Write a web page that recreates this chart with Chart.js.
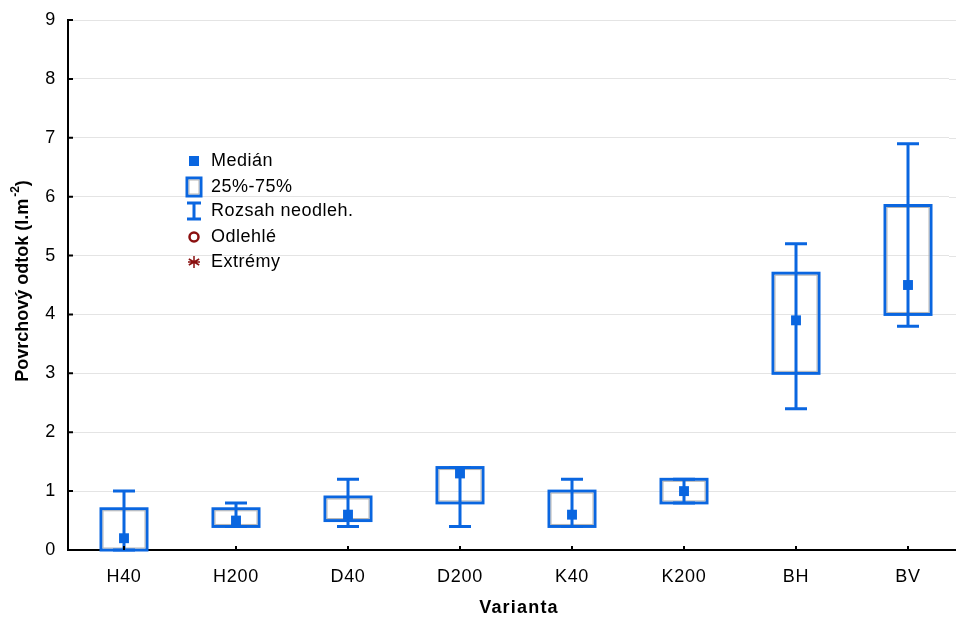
<!DOCTYPE html>
<html>
<head>
<meta charset="utf-8">
<script src="https://cdn.jsdelivr.net/npm/chart.js@4/dist/chart.umd.min.js"></script>
<style>
  body { margin: 0; background: #fff; }
</style>
</head>
<body>
<canvas id="chart" width="956" height="619"></canvas>
<script>
// Povrchový odtok podle variant
const categories = ['H40', 'H200', 'D40', 'D200', 'K40', 'K200', 'BH', 'BV'];
const medians = [0.2, 0.5, 0.6, 1.3, 0.6, 1.0, 3.9, 4.5];
const q1 = [0, 0.4, 0.5, 0.8, 0.4, 0.8, 3.0, 4.0];
const q3 = [0.7, 0.7, 0.9, 1.4, 1.0, 1.2, 4.7, 5.85];
const whiskerLow = [0, 0.4, 0.4, 0.4, 0.4, 0.8, 2.4, 3.8];
const whiskerHigh = [1.0, 0.8, 1.2, 1.4, 1.2, 1.2, 5.2, 6.9];
const yTicks = [0, 1, 2, 3, 4, 5, 6, 7, 8, 9];
const legendLabels = ['Medián', '25%-75%', 'Rozsah neodleh.', 'Odlehlé', 'Extrémy'];

const BLUE = '#0a66e0';
const DARKRED = '#8b1010';
const FONT = '"Liberation Sans", Arial, sans-serif';

// krabice a vousy
const boxPlugin = {
    id: 'boxes',
    beforeDraw(chart) {
        chart.ctx.letterSpacing = '0.7px';
    },
    beforeDatasetsDraw(chart) {
        const ctx = chart.ctx;
        const area = chart.chartArea;
        const x = chart.scales.x, y = chart.scales.y;
        ctx.save();
        // mřížka a osa až k pravému okraji
        ctx.strokeStyle = '#e4e4e4';
        ctx.lineWidth = 1;
        ctx.beginPath();
        yTicks.forEach(v => {
            const py = Math.round(y.getPixelForValue(v)) + 0.5;
            ctx.moveTo(area.right, py); ctx.lineTo(chart.width, py);
        });
        ctx.stroke();
        ctx.strokeStyle = '#000';
        ctx.lineWidth = 2;
        ctx.beginPath();
        ctx.moveTo(area.right - 1, area.bottom); ctx.lineTo(chart.width, area.bottom);
        ctx.stroke();

        categories.forEach((_, i) => {
            const cx = x.getPixelForValue(i);
            const top = y.getPixelForValue(q3[i]);
            const bot = y.getPixelForValue(q1[i]);
            const hw = 23;
            ctx.strokeStyle = BLUE;
            ctx.lineWidth = 3;
            ctx.strokeRect(cx - hw, top, hw * 2, bot - top);
            ctx.strokeStyle = '#b4b4b4';
            ctx.lineWidth = 1;
            ctx.strokeRect(cx - hw + 2, top + 2, hw * 2 - 4, bot - top - 4);

            const wt = y.getPixelForValue(whiskerHigh[i]);
            const wb = y.getPixelForValue(whiskerLow[i]);
            ctx.strokeStyle = BLUE;
            ctx.lineWidth = 3;
            ctx.beginPath();
            ctx.moveTo(cx, wt); ctx.lineTo(cx, wb);
            ctx.moveTo(cx - 11, wt); ctx.lineTo(cx + 11, wt);
            ctx.moveTo(cx - 11, wb); ctx.lineTo(cx + 11, wb);
            ctx.stroke();
        });
        ctx.restore();
    },
    afterDraw(chart) {
        const ctx = chart.ctx;
        const area = chart.chartArea;
        const x = chart.scales.x, y = chart.scales.y;
        ctx.save();

        // malé vnitřní značky na osách
        ctx.strokeStyle = '#000';
        ctx.lineWidth = 2;
        ctx.beginPath();
        yTicks.forEach(v => {
            const py = y.getPixelForValue(v);
            ctx.moveTo(area.left, py); ctx.lineTo(area.left + 5, py);
        });
        categories.forEach((_, i) => {
            const px = x.getPixelForValue(i);
            ctx.moveTo(px, area.bottom); ctx.lineTo(px, area.bottom - 4);
        });
        ctx.stroke();

        // popisky os
        ctx.fillStyle = '#000';
        ctx.letterSpacing = '1.2px';
        ctx.font = 'bold 18px ' + FONT;
        ctx.textAlign = 'center';
        ctx.textBaseline = 'middle';
        ctx.fillText('Varianta', 519, 608);

        ctx.save();
        ctx.letterSpacing = '0px';
        ctx.translate(23, 281);
        ctx.rotate(-Math.PI / 2);
        const main = 'Povrchový odtok (l.m';
        const sup = '-2';
        const end = ')';
        ctx.font = 'bold 18px ' + FONT;
        const wMain = ctx.measureText(main).width;
        const wEnd = ctx.measureText(end).width;
        ctx.font = 'bold 12px ' + FONT;
        const wSup = ctx.measureText(sup).width + 2;
        let sx = -(wMain + wSup + wEnd) / 2;
        ctx.textAlign = 'left';
        ctx.font = 'bold 18px ' + FONT;
        ctx.fillText(main, sx, 0);
        ctx.font = 'bold 12px ' + FONT;
        ctx.fillText(sup, sx + wMain + 2, -7);
        ctx.font = 'bold 18px ' + FONT;
        ctx.fillText(end, sx + wMain + wSup, 0);
        ctx.restore();

        // legenda
        const lx = 194, tx = 211;
        const rows = [161, 187, 211, 237, 262];
        ctx.letterSpacing = '0.5px';
        ctx.font = '18px ' + FONT;
        ctx.textAlign = 'left';
        ctx.textBaseline = 'middle';
        legendLabels.forEach((t, k) => {
            ctx.fillStyle = '#000';
            ctx.fillText(t, tx, rows[k]);
        });
        // medián
        ctx.fillStyle = BLUE;
        ctx.fillRect(lx - 5, rows[0] - 5, 10, 10);
        // krabice
        ctx.strokeStyle = BLUE;
        ctx.lineWidth = 3;
        ctx.strokeRect(lx - 7, rows[1] - 9, 14, 18);
        ctx.strokeStyle = '#b4b4b4';
        ctx.lineWidth = 1;
        ctx.strokeRect(lx - 5, rows[1] - 7, 10, 14);
        // vousy
        ctx.strokeStyle = BLUE;
        ctx.lineWidth = 3;
        ctx.beginPath();
        ctx.moveTo(lx, rows[2] - 8); ctx.lineTo(lx, rows[2] + 8);
        ctx.moveTo(lx - 7, rows[2] - 8); ctx.lineTo(lx + 7, rows[2] - 8);
        ctx.moveTo(lx - 7, rows[2] + 8); ctx.lineTo(lx + 7, rows[2] + 8);
        ctx.stroke();
        // odlehlé
        ctx.strokeStyle = DARKRED;
        ctx.lineWidth = 2.5;
        ctx.beginPath();
        ctx.arc(lx, rows[3], 4.5, 0, Math.PI * 2);
        ctx.stroke();
        // extrémy
        ctx.lineWidth = 1.5;
        ctx.beginPath();
        for (let a = 0; a < 3; a++) {
            const ang = Math.PI / 2 + a * Math.PI / 3;
            ctx.moveTo(lx + 6 * Math.cos(ang), rows[4] + 6 * Math.sin(ang));
            ctx.lineTo(lx - 6 * Math.cos(ang), rows[4] - 6 * Math.sin(ang));
        }
        ctx.moveTo(lx - 6, rows[4]); ctx.lineTo(lx + 6, rows[4]);
        ctx.stroke();

        ctx.restore();
    }
};

new Chart(document.getElementById('chart'), {
    type: 'scatter',
    data: {
        datasets: [{
            label: 'Medián',
            data: medians.map((m, i) => ({ x: i, y: m })),
            backgroundColor: BLUE,
            borderWidth: 0,
            pointStyle: 'rect',
            pointRadius: 7,
            clip: false
        }]
    },
    options: {
        responsive: false,
        animation: false,
        devicePixelRatio: 1,
        layout: { padding: { top: 20, right: 0, left: 0, bottom: 0 } },
        plugins: {
            legend: { display: false },
            tooltip: { enabled: false }
        },
        scales: {
            x: {
                type: 'linear',
                min: -0.5,
                max: 7.366,
                afterBuildTicks: s => { s.ticks = categories.map((_, i) => ({ value: i })); },
                afterFit: s => { s.height = 69; s.paddingLeft = 0; s.paddingRight = 0; },
                ticks: {
                    callback: v => categories[v],
                    color: '#000',
                    font: { size: 18, family: FONT },
                    padding: 16,
                    maxRotation: 0,
                    autoSkip: false
                },
                grid: { display: false, drawTicks: false },
                border: { color: '#000', width: 2 }
            },
            y: {
                min: 0,
                max: 9,
                afterBuildTicks: s => { s.ticks = yTicks.map(v => ({ value: v })); },
                afterFit: s => { s.width = 68; s.paddingTop = 0; s.paddingBottom = 0; },
                ticks: {
                    color: '#000',
                    font: { size: 18, family: FONT },
                    padding: 12
                },
                grid: { color: '#e4e4e4', lineWidth: 1, drawTicks: false },
                border: { color: '#000', width: 2 }
            }
        }
    },
    plugins: [boxPlugin]
});
</script>
</body>
</html>
